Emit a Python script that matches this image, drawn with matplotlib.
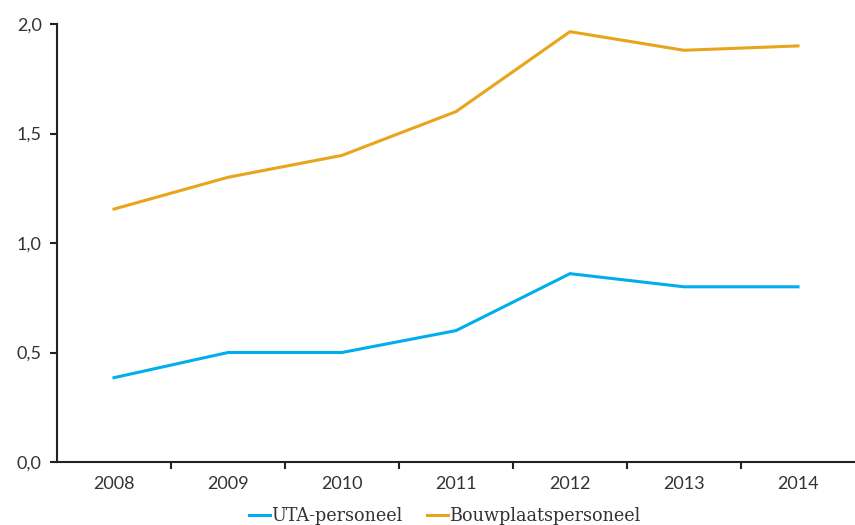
import numpy as np
import matplotlib.pyplot as plt
from matplotlib.ticker import FuncFormatter

years = ['2008', '2009', '2010', '2011', '2012', '2013', '2014']
uta = [0.385, 0.50, 0.50, 0.60, 0.86, 0.80, 0.80]
bouw = [1.155, 1.30, 1.40, 1.60, 1.965, 1.88, 1.90]

plt.rcParams['font.family'] = ['Lato', 'DejaVu Sans']

fig = plt.figure(figsize=(8.55, 5.25), dpi=100)
ax = fig.add_axes([57 / 855, 63 / 525, 1 - 57 / 855, (462 - 24) / 525])

x = np.arange(len(years))
ax.plot(x, uta, color='#00aeef', lw=2.2, label='UTA-personeel')
ax.plot(x, bouw, color='#e8a51b', lw=2.2, label='Bouwplaatspersoneel')

ax.set_xlim(-0.5, len(years) - 0.5)
ax.set_ylim(0, 2.0)
ax.set_yticks(np.arange(0, 2.01, 0.5))
ax.yaxis.set_major_formatter(FuncFormatter(lambda v, p: f'{v:.1f}'.replace('.', ',')))
ax.set_xticks(x)
ax.set_xticklabels(years)
ax.set_xticks(x[:-1] + 0.5, minor=True)

for s in ['top', 'right']:
    ax.spines[s].set_visible(False)
for s in ['left', 'bottom']:
    ax.spines[s].set_color('#222222')
    ax.spines[s].set_linewidth(1.5)

ax.tick_params(axis='x', which='major', length=0, pad=10, labelsize=13)
ax.tick_params(axis='x', which='minor', length=5, width=1.5, direction='out', color='#222222')
ax.tick_params(axis='y', length=5, width=1.5, pad=6, labelsize=13)
ax.tick_params(axis='y', colors='#222222', labelcolor='#333333')
ax.tick_params(axis='x', colors='#222222', labelcolor='#333333')

leg = fig.legend(loc='lower center', bbox_to_anchor=(0.52, -0.03), ncol=2, frameon=False,
                 handlelength=1.2, handletextpad=0.05, columnspacing=1.4,
                 prop={'family': 'DejaVu Serif', 'size': 12.7})
for t in leg.get_texts():
    t.set_color('#333333')

fig.savefig('out.png', dpi=100)
